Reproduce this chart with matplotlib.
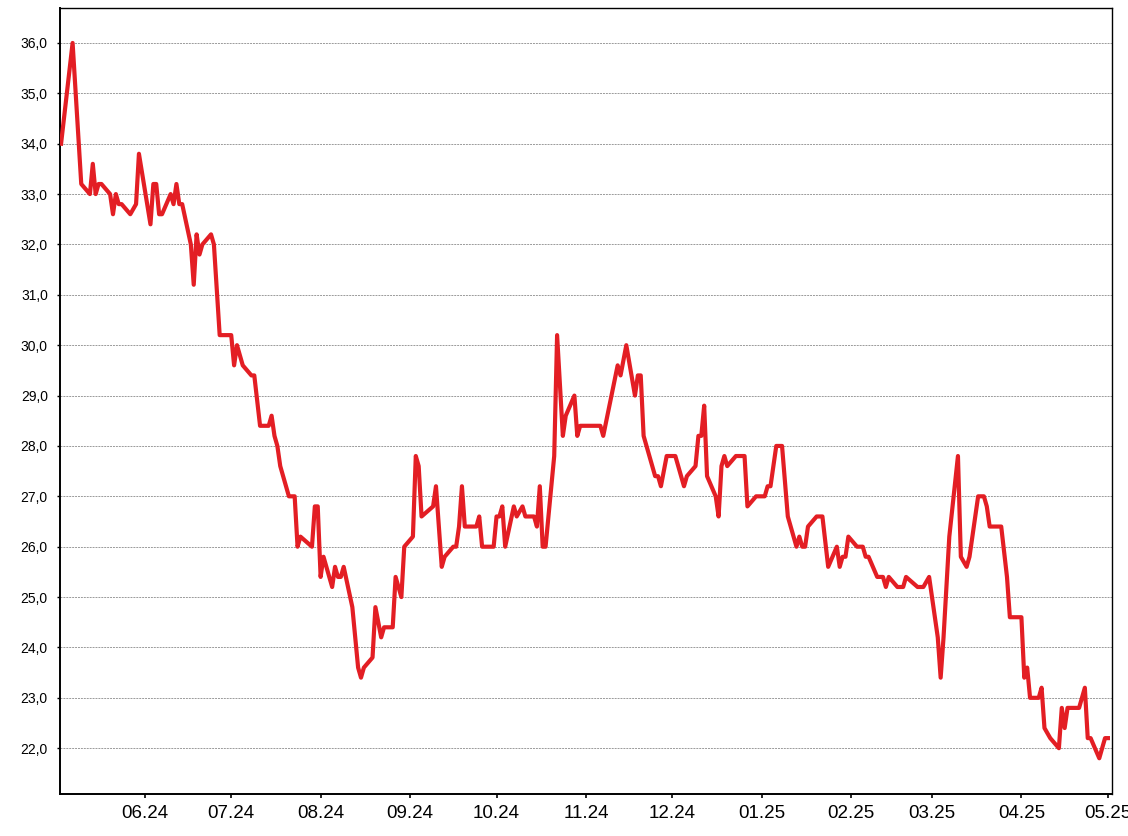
import pandas as pd
import matplotlib
matplotlib.use("Agg")
import matplotlib.pyplot as plt
import matplotlib.dates as mdates
from matplotlib.ticker import FuncFormatter, MultipleLocator

plt.rcParams['font.family'] = ['Liberation Sans', 'DejaVu Sans']

# price series
dates = [
    # May 2024
    '2024-05-03', '2024-05-07', '2024-05-10', '2024-05-13', '2024-05-14', '2024-05-15',
    '2024-05-16', '2024-05-17', '2024-05-20', '2024-05-21', '2024-05-22', '2024-05-23',
    '2024-05-24', '2024-05-27', '2024-05-29', '2024-05-30',
    # Jun
    '2024-06-03', '2024-06-04', '2024-06-05', '2024-06-06', '2024-06-07', '2024-06-10',
    '2024-06-11', '2024-06-12', '2024-06-13', '2024-06-14', '2024-06-17', '2024-06-18',
    '2024-06-19', '2024-06-20', '2024-06-21', '2024-06-24', '2024-06-25', '2024-06-27',
    # Jul
    '2024-07-01', '2024-07-02', '2024-07-03', '2024-07-05', '2024-07-08', '2024-07-09',
    '2024-07-11', '2024-07-14', '2024-07-15', '2024-07-16', '2024-07-17', '2024-07-18',
    '2024-07-21', '2024-07-23', '2024-07-24', '2024-07-25', '2024-07-29', '2024-07-30',
    '2024-07-31',
    # Aug
    '2024-08-01', '2024-08-02', '2024-08-05', '2024-08-06', '2024-08-07', '2024-08-08',
    '2024-08-09', '2024-08-12', '2024-08-14', '2024-08-15', '2024-08-16', '2024-08-19',
    '2024-08-20', '2024-08-22', '2024-08-23', '2024-08-26', '2024-08-27', '2024-08-29',
    '2024-08-30',
    # Sep
    '2024-09-02', '2024-09-03', '2024-09-04', '2024-09-05', '2024-09-09', '2024-09-10',
    '2024-09-12', '2024-09-13', '2024-09-16', '2024-09-17', '2024-09-18', '2024-09-19',
    '2024-09-20', '2024-09-24', '2024-09-25', '2024-09-26', '2024-09-30',
    # Oct
    '2024-10-01', '2024-10-02', '2024-10-03', '2024-10-04', '2024-10-07', '2024-10-08',
    '2024-10-10', '2024-10-11', '2024-10-14', '2024-10-15', '2024-10-16', '2024-10-17',
    '2024-10-18', '2024-10-21', '2024-10-22', '2024-10-24', '2024-10-25', '2024-10-28',
    '2024-10-29', '2024-10-30',
    # Nov
    '2024-11-06', '2024-11-07', '2024-11-12', '2024-11-13', '2024-11-15', '2024-11-18',
    '2024-11-19', '2024-11-20', '2024-11-21', '2024-11-22', '2024-11-25', '2024-11-26',
    '2024-11-27', '2024-11-29',
    # Dec
    '2024-12-02', '2024-12-05', '2024-12-06', '2024-12-09', '2024-12-10', '2024-12-11',
    '2024-12-12', '2024-12-13', '2024-12-16', '2024-12-17', '2024-12-18', '2024-12-19',
    '2024-12-20', '2024-12-23', '2024-12-26', '2024-12-27', '2024-12-30',
    # Jan 2025
    '2025-01-02', '2025-01-03', '2025-01-04', '2025-01-06', '2025-01-08', '2025-01-10',
    '2025-01-13', '2025-01-14', '2025-01-15', '2025-01-16', '2025-01-17', '2025-01-20',
    '2025-01-22', '2025-01-24', '2025-01-27', '2025-01-28', '2025-01-29', '2025-01-30',
    '2025-01-31',
    # Feb
    '2025-02-03', '2025-02-05', '2025-02-06', '2025-02-07', '2025-02-10', '2025-02-12',
    '2025-02-13', '2025-02-14', '2025-02-17', '2025-02-19', '2025-02-20', '2025-02-24',
    '2025-02-26', '2025-02-28',
    # Mar
    '2025-03-03', '2025-03-04', '2025-03-05', '2025-03-07', '2025-03-10', '2025-03-11',
    '2025-03-13', '2025-03-14', '2025-03-17', '2025-03-19', '2025-03-20', '2025-03-21',
    '2025-03-25', '2025-03-27', '2025-03-28',
    # Apr / May
    '2025-04-01', '2025-04-02', '2025-04-03', '2025-04-04', '2025-04-07', '2025-04-08',
    '2025-04-09', '2025-04-11', '2025-04-14', '2025-04-15', '2025-04-16', '2025-04-17',
    '2025-04-21', '2025-04-23', '2025-04-24', '2025-04-25', '2025-04-28', '2025-04-30',
    '2025-05-01',
]

prices = [
    34.0, 36.0, 33.2, 33.0, 33.6, 33.0, 33.2, 33.2, 33.0, 32.6, 33.0, 32.8,
    32.8, 32.6, 32.8, 33.8,
    32.4, 33.2, 33.2, 32.6, 32.6, 33.0, 32.8, 33.2, 32.8, 32.8, 32.0, 31.2,
    32.2, 31.8, 32.0, 32.2, 32.0, 30.2,
    30.2, 29.6, 30.0, 29.6, 29.4, 29.4, 28.4, 28.4, 28.6, 28.2, 28.0, 27.6,
    27.0, 27.0, 26.0, 26.2, 26.0, 26.8, 26.8,
    25.4, 25.8, 25.2, 25.6, 25.4, 25.4, 25.6, 24.8, 23.6, 23.4, 23.6, 23.8,
    24.8, 24.2, 24.4, 24.4, 25.4, 25.0, 26.0,
    26.2, 27.8, 27.6, 26.6, 26.8, 27.2, 25.6, 25.8, 26.0, 26.0, 26.4, 27.2,
    26.4, 26.4, 26.6, 26.0, 26.0,
    26.6, 26.6, 26.8, 26.0, 26.8, 26.6, 26.8, 26.6, 26.6, 26.4, 27.2, 26.0,
    26.0, 27.8, 30.2, 28.2, 28.6, 29.0, 28.2, 28.4,
    28.4, 28.2, 29.6, 29.4, 30.0, 29.0, 29.4, 29.4, 28.2, 28.0, 27.4, 27.4,
    27.2, 27.8,
    27.8, 27.2, 27.4, 27.6, 28.2, 28.2, 28.8, 27.4, 27.0, 26.6, 27.6, 27.8,
    27.6, 27.8, 27.8, 26.8, 27.0,
    27.0, 27.2, 27.2, 28.0, 28.0, 26.6, 26.0, 26.2, 26.0, 26.0, 26.4, 26.6,
    26.6, 25.6, 26.0, 25.6, 25.8, 25.8, 26.2,
    26.0, 26.0, 25.8, 25.8, 25.4, 25.4, 25.2, 25.4, 25.2, 25.2, 25.4, 25.2,
    25.2, 25.4,
    24.2, 23.4, 24.2, 26.2, 27.8, 25.8, 25.6, 25.8, 27.0, 27.0, 26.8, 26.4,
    26.4, 25.4, 24.6,
    24.6, 23.4, 23.6, 23.0, 23.0, 23.2, 22.4, 22.2, 22.0, 22.8, 22.4, 22.8,
    22.8, 23.2, 22.2, 22.2, 21.8, 22.2, 22.2,
]

x = pd.to_datetime(dates)

fig = plt.figure(figsize=(11.28, 8.36), dpi=100)
ax = fig.add_axes([0.0535, 0.0502, 0.9320, 0.9400])

ax.plot(x, prices, color='#e31e24', linewidth=3.0, zorder=3)

ax.set_xlim(pd.Timestamp('2024-05-02 18:00'), pd.Timestamp('2025-05-02 07:00'))
ax.set_ylim(21.09, 36.69)

ax.yaxis.set_major_locator(MultipleLocator(1.0))
ax.yaxis.set_major_formatter(FuncFormatter(lambda v, p: f"{v:.1f}".replace('.', ',')))
ax.xaxis.set_major_locator(mdates.MonthLocator())
ax.xaxis.set_major_formatter(mdates.DateFormatter('%m.%y'))

ax.grid(axis='y', color='#9a9a9a', linestyle=(0, (2, 1)), linewidth=0.7, zorder=1)
ax.grid(axis='x', visible=False)

for s in ax.spines.values():
    s.set_linewidth(1.0)
    s.set_color('black')
ax.spines['bottom'].set_linewidth(1.4)
ax.spines['left'].set_linewidth(1.4)

ax.tick_params(axis='y', direction='out', length=2.5, width=1.0, pad=6.5,
               labelsize=10, colors='black')
ax.tick_params(axis='x', direction='out', length=3, width=1.2, pad=5,
               labelsize=13.5, colors='black')

fig.savefig('out.png', dpi=100)
